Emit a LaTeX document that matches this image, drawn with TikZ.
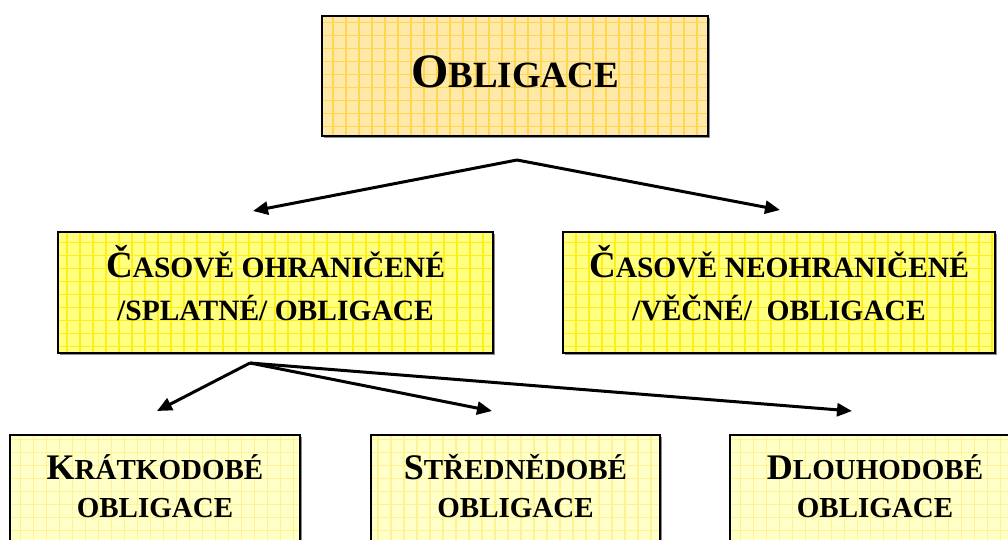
\documentclass[tikz,border=0pt]{standalone}
\usepackage{fontspec}
\setmainfont{Liberation Serif}[BoldFont={Liberation Serif Bold}]
\usepackage{tikz}
\usetikzlibrary{arrows.meta,shadows}

\definecolor{topfill}{HTML}{FFE9A8}
\definecolor{topgrid}{HTML}{FFD64E}
\definecolor{midfill}{HTML}{FFFF80}
\definecolor{midgrid}{HTML}{FFEE18}
\definecolor{botfill}{HTML}{FFFFC8}
\definecolor{botgrid}{HTML}{FFF294}

\newcommand{\capsize}[2]{{\fontsize{#1}{#1}\selectfont #2}}

\tikzset{
  box/.style={draw=black, line width=2.5pt, inner sep=0pt, align=center,
    font=\bfseries, drop shadow={shadow xshift=2pt, shadow yshift=-2pt,
    opacity=0.45, fill=black}},
  gridded/.style={path picture={
    \draw[#1, line width=1.1pt, step=13pt]
      (path picture bounding box.south west) grid
      (path picture bounding box.north east);}},
  link/.style={line width=3pt, -{Triangle[length=15pt,width=13pt]}}
}

\begin{document}
\begin{tikzpicture}[x=1pt,y=-1pt]
    \useasboundingbox (0,0) rectangle (1008,540);
    \clip (0,0) rectangle (1008,540);
    \node[box, fill=topfill, gridded=topgrid, minimum width=386pt,
      minimum height=120pt, text depth=8pt] (top) at (515,76)
      {\capsize{48}{O}\capsize{37}{BLIGACE}};
    \node[box, fill=midfill, gridded=midgrid, minimum width=435pt,
      minimum height=121pt, text depth=20pt,
      font=\bfseries\fontsize{29.5}{43}\selectfont]
      (timed) at (275.5,292.5)
      {\capsize{37}{Č}ASOVĚ OHRANIČENÉ\\/SPLATNÉ/ OBLIGACE};
    \node[box, fill=midfill, gridded=midgrid, minimum width=432pt,
      minimum height=121pt, text depth=20pt,
      font=\bfseries\fontsize{29.5}{43}\selectfont]
      (untimed) at (779,292.5)
      {\capsize{37}{Č}ASOVĚ NEOHRANIČENÉ\\/VĚČNÉ/\ \ OBLIGACE};
    \node[box, fill=botfill, gridded=botgrid, minimum width=290pt,
      minimum height=140pt, text depth=38pt,
      font=\bfseries\fontsize{29}{38}\selectfont] (short) at (155,505)
      {\capsize{36}{K}RÁTKODOBÉ\\OBLIGACE};
    \node[box, fill=botfill, gridded=botgrid, minimum width=289pt,
      minimum height=140pt, text depth=38pt,
      font=\bfseries\fontsize{29}{38}\selectfont] (medium) at (515.5,505)
      {\capsize{36}{S}TŘEDNĚDOBÉ\\OBLIGACE};
    \node[box, fill=botfill, gridded=botgrid, minimum width=290pt,
      minimum height=140pt, text depth=38pt,
      font=\bfseries\fontsize{29}{38}\selectfont] (long) at (875,505)
      {\capsize{36}{D}LOUHODOBÉ\\OBLIGACE};
    \coordinate (topfork) at (517,160);
    \coordinate (timedend) at (253,211);
    \coordinate (untimedend) at (780,210);
    \coordinate (midfork) at (250,363);
    \coordinate (shortend) at (157,411);
    \coordinate (mediumend) at (492,411);
    \coordinate (longend) at (852,411);
    \draw[link] (topfork) -- (timedend);
    \draw[link] (topfork) -- (untimedend);
    \draw[link] (midfork) -- (shortend);
    \draw[link] (midfork) -- (mediumend);
    \draw[link] (midfork) -- (longend);
  \end{tikzpicture}
\end{document}
